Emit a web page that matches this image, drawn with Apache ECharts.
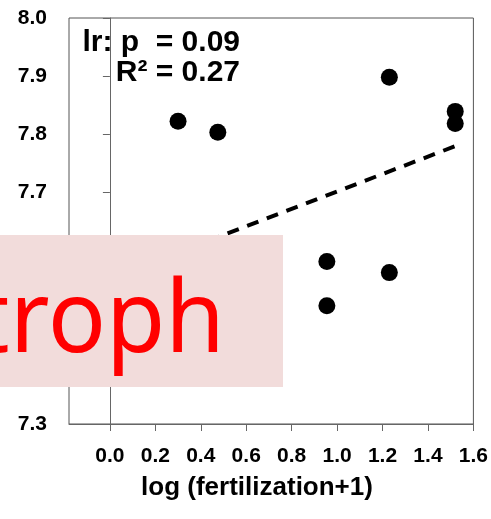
<!DOCTYPE html>
<html>
<head>
<meta charset="utf-8">
<script src="https://cdn.jsdelivr.net/npm/echarts@6/dist/echarts.min.js"></script>
<style>html,body{margin:0;padding:0;background:#fff;}#c{width:491px;height:519px;}</style>
</head>
<body>
<div id="c"></div>
<script>
// Data
var pointX = [0.30, 0.475, 1.23, 1.52, 1.52, 0.955, 0.955, 1.23];
var pointY = [7.822, 7.803, 7.898, 7.839, 7.818, 7.580, 7.504, 7.561];
var fitX = [0.0, 1.52];
var fitY = [7.551, 7.779];
var xTicks = [0.0, 0.2, 0.4, 0.6, 0.8, 1.0, 1.2, 1.4, 1.6];
var statLines = ['lr: p  = 0.09', 'R\u00B2 = 0.27'];
var xTitle = 'log (fertilization+1)';
var overlayText = 'troph';

var FONT = '"Liberation Sans", Arial, sans-serif';
var chart = echarts.init(document.getElementById('c'));
var points = pointX.map(function (x, i) { return [x, pointY[i]]; });
var fit = fitX.map(function (x, i) { return [x, fitY[i]]; });

chart.setOption({
  animation: false,
  backgroundColor: '#ffffff',
  grid: { left: 69, right: 17, top: 18, bottom: 95, show: true, borderColor: '#555', borderWidth: 1, backgroundColor: 'transparent' },
  xAxis: {
    type: 'value', min: -0.18, max: 1.6,
    axisLine: { show: true, lineStyle: { color: '#666', width: 1 } },
    axisTick: { show: true, length: 7, inside: false, customValues: xTicks, lineStyle: { color: '#666' } },
    axisLabel: { customValues: xTicks, margin: 22, color: '#000', fontFamily: FONT, fontWeight: 'bold', fontSize: 21,
      formatter: function (v) { return (+v).toFixed(1); } },
    splitLine: { show: false }
  },
  yAxis: {
    type: 'value', min: 7.3, max: 8.0, interval: 0.1,
    axisLine: { show: true, lineStyle: { color: '#666', width: 1 } },
    axisTick: { show: true, length: 7, inside: false, lineStyle: { color: '#666' } },
    axisLabel: { margin: 22, color: '#000', fontFamily: FONT, fontWeight: 'bold', fontSize: 21,
      formatter: function (v) { return (+v).toFixed(1); } },
    splitLine: { show: false }
  },
  series: [
    { type: 'line', data: fit, symbol: 'none', z: 3,
      lineStyle: { color: '#000', width: 4, type: [12, 9] } },
    { type: 'scatter', data: points, symbol: 'circle', symbolSize: 17, z: 4,
      itemStyle: { color: '#000', opacity: 1 } }
  ],
  graphic: [
    { type: 'text', z: 50, x: 240, y: 43, style: { text: statLines[0], align: 'right', verticalAlign: 'middle', fill: '#000', font: 'bold 30px ' + FONT } },
    { type: 'text', z: 50, x: 240, y: 73, style: { text: statLines[1], align: 'right', verticalAlign: 'middle', fill: '#000', font: 'bold 30px ' + FONT } },
    { type: 'text', z: 50, x: 257, y: 488, style: { text: xTitle, align: 'center', verticalAlign: 'middle', fill: '#000', font: 'bold 26px ' + FONT } },
    { type: 'rect', z: 100, shape: { x: 0, y: 235, width: 283, height: 152 }, style: { fill: '#F2DCDB' } },
    { type: 'text', z: 101, x: 225, y: 324, scaleX: 0.965, style: { text: overlayText, align: 'right', verticalAlign: 'middle', fill: '#FF0000', font: '100px "Noto Sans", sans-serif' } }
  ]
});
</script>
</body>
</html>
